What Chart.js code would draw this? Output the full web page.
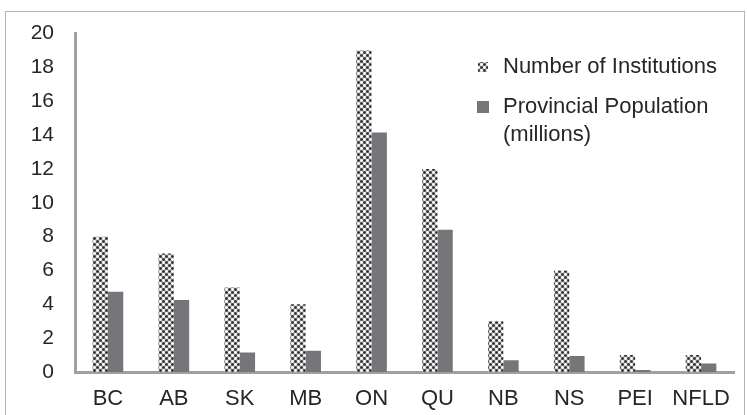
<!DOCTYPE html>
<html>
<head>
<meta charset="utf-8">
<script src="https://cdn.jsdelivr.net/npm/chart.js@4.4.0/dist/chart.umd.min.js"></script>
<style>
  html, body { margin: 0; padding: 0; background: #fff; }
  #frame { position: absolute; left: 5px; top: 11px; width: 740px; height: 420px;
           border: 1px solid #b4b4b4; box-sizing: border-box; }
  #wrap { position: absolute; left: 0; top: 0; width: 747px; height: 415px; }
</style>
</head>
<body>
<div id="frame"></div>
<div id="wrap"><canvas id="grafico" width="747" height="415"></canvas></div>
<script>
// Datos
const provincias = ['BC', 'AB', 'SK', 'MB', 'ON', 'QU', 'NB', 'NS', 'PEI', 'NFLD'];
const instituciones = [8, 7, 5, 4, 19, 12, 3, 6, 1, 1];
const poblacion = [4.75, 4.25, 1.15, 1.25, 14.15, 8.4, 0.7, 0.95, 0.12, 0.5];
const etiquetas = ['Number of Institutions', 'Provincial Population (millions)'];
const lineasLeyenda = [['Number of Institutions'], ['Provincial Population', '(millions)']];

const fuente = '"Liberation Sans", Arial, sans-serif';

// Patron de puntos para la primera serie
function crearPatron() {
  const c = document.createElement('canvas');
  c.width = 6; c.height = 6;
  const g = c.getContext('2d');
  g.fillStyle = '#9a9a9a';
  g.fillRect(0, 0, 6, 6);
  g.fillStyle = '#ffffff';
  [[1.5, 4.5], [4.5, 1.5]].forEach(p => { g.beginPath(); g.arc(p[0], p[1], 1.4, 0, Math.PI * 2); g.fill(); });
  g.fillStyle = '#262626';
  [[1.5, 1.5], [4.5, 4.5]].forEach(p => { g.beginPath(); g.arc(p[0], p[1], 1.2, 0, Math.PI * 2); g.fill(); });
  return document.getElementById('grafico').getContext('2d').createPattern(c, 'repeat');
}
const patron = crearPatron();
const gris = '#76767a';

// Leyenda dibujada a mano (la segunda etiqueta va en dos lineas)
const leyenda = {
  id: 'leyenda',
  afterDraw(chart) {
    const ctx = chart.ctx;
    ctx.save();
    ctx.font = '22px ' + fuente;
    ctx.textBaseline = 'middle';
    const filas = [67, 107];
    lineasLeyenda.forEach((lineas, i) => {
      ctx.fillStyle = i === 0 ? patron : gris;
      if (i === 0) ctx.fillRect(478, filas[i] - 5, 10, 10);
      else ctx.fillRect(477, filas[i] - 6, 12, 12);
      ctx.fillStyle = '#262626';
      lineas.forEach((t, j) => ctx.fillText(t, 503, filas[i] + j * 28));
    });
    ctx.restore();
  }
};

const ctx = document.getElementById('grafico').getContext('2d');
new Chart(ctx, {
  type: 'bar',
  data: {
    labels: provincias,
    datasets: [
      { label: etiquetas[0], data: instituciones, backgroundColor: patron, borderWidth: 0,
        categoryPercentage: 0.465, barPercentage: 1 },
      { label: etiquetas[1], data: poblacion, backgroundColor: gris, borderWidth: 0,
        categoryPercentage: 0.465, barPercentage: 1 }
    ]
  },
  options: {
    responsive: false,
    animation: false,
    layout: { padding: { top: 30, right: 13, left: 0, bottom: 0 } },
    plugins: { legend: { display: false }, tooltip: { enabled: false } },
    scales: {
      x: {
        grid: { display: false, drawTicks: false },
        border: { color: '#a0a0a4', width: 3 },
        ticks: { color: '#262626', padding: 14, font: { size: 22, family: fuente } },
        afterFit: s => { s.height = 43; }
      },
      y: {
        min: 0, max: 20,
        grid: { display: false, drawTicks: false },
        border: { color: '#a0a0a4', width: 3 },
        ticks: { stepSize: 2, color: '#262626', padding: 21, font: { size: 21, family: fuente } },
        afterFit: s => { s.width = 75; }
      }
    }
  },
  plugins: [leyenda]
});
</script>
</body>
</html>
